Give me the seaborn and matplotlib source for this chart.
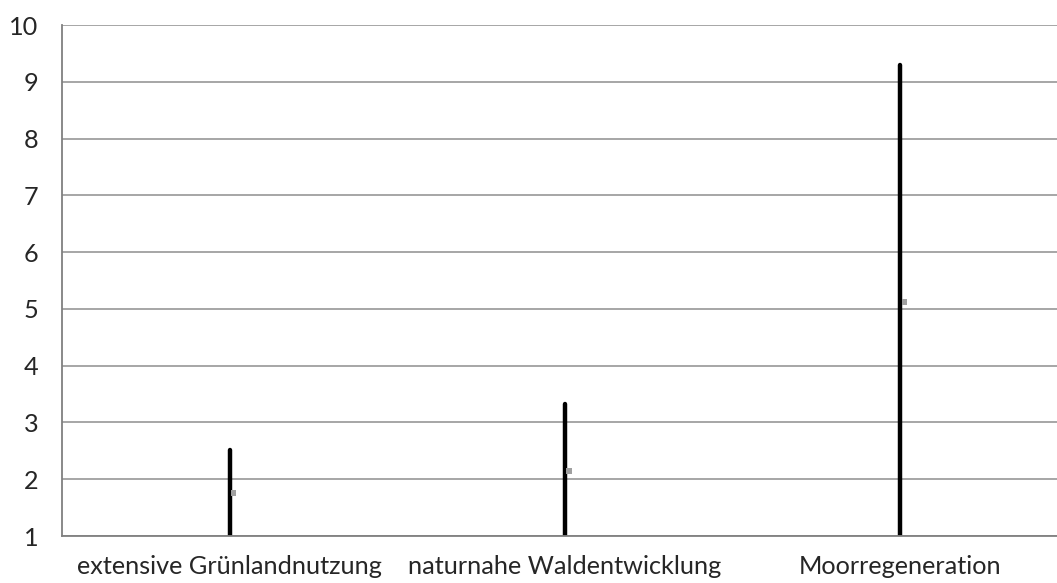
import pandas as pd
import seaborn as sns
import matplotlib.pyplot as plt
from matplotlib.ticker import FixedLocator

# Kategorien und Werte (Hoch/Tief/Mittel)
categories = ["extensive Grünlandnutzung", "naturnahe Waldentwicklung", "Moorregeneration"]
high_values = [2.52, 3.32, 9.29]
low_values = [1.0, 1.0, 1.0]
mid_values = [1.76, 2.14, 5.12]
y_ticks = [1, 2, 3, 4, 5, 6, 7, 8, 9, 10]

sns.set_style("white")
plt.rcParams['font.family'] = ['Lato', 'DejaVu Sans']

pos = list(range(len(categories)))
lines = pd.DataFrame({
    "x": pos + pos,
    "y": low_values + high_values,
    "cat": categories + categories,
})
mids = pd.DataFrame({"x": [p + 0.012 for p in pos], "y": mid_values})

fig = plt.figure(figsize=(10.57, 5.83), dpi=100)
ax = fig.add_axes([62 / 1057, 1 - 536 / 583, (1068 - 62) / 1057, (536 - 25) / 583])

for v in y_ticks:
    ax.axhline(v, color="#A6A6A6", lw=1.4, zorder=0)

sns.lineplot(data=lines, x="x", y="y", units="cat", estimator=None, sort=False,
             color="black", lw=3.2, ax=ax, legend=False)
sns.scatterplot(data=mids, x="x", y="y", marker="s", s=16, color="#A0A0A0",
                edgecolor="none", ax=ax, zorder=5)

ax.set_xlim(-0.5, 2.5)
ax.set_ylim(1, 10)
ax.set_yticks(y_ticks)
ax.set_xticks(pos)
ax.set_xticklabels(categories)
ax.xaxis.set_minor_locator(FixedLocator([-0.5, 0.5, 1.5, 2.5]))
ax.tick_params(axis="x", which="major", length=0, pad=14, labelsize=18.2)
ax.tick_params(axis="x", which="minor", length=6, width=1.3, color="#808080", direction="out")
ax.tick_params(axis="y", length=6, width=1.3, color="#808080", direction="out", pad=11, labelsize=18.2)
ax.set_xlabel("")
ax.set_ylabel("")

for s in ["top", "right"]:
    ax.spines[s].set_visible(False)
for s in ["left", "bottom"]:
    ax.spines[s].set_color("#808080")
    ax.spines[s].set_linewidth(1.3)

fig.savefig("out.png", dpi=100)
